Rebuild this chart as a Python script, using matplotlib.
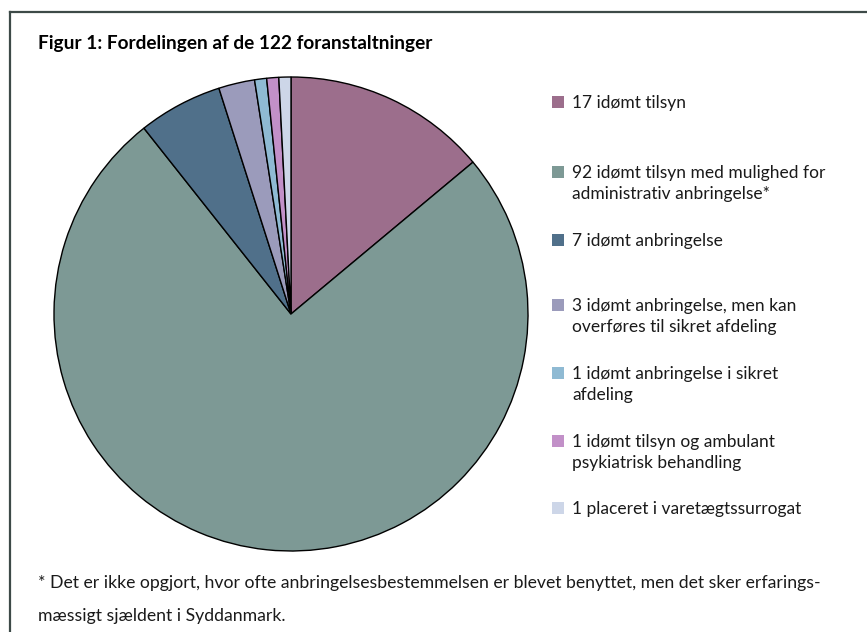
import matplotlib.pyplot as plt
from matplotlib.patches import Rectangle
from matplotlib.lines import Line2D

counts = [17, 92, 7, 3, 1, 1, 1]
labels = [
    "17 idømt tilsyn",
    "92 idømt tilsyn med mulighed for\nadministrativ anbringelse*",
    "7 idømt anbringelse",
    "3 idømt anbringelse, men kan\noverføres til sikret afdeling",
    "1 idømt anbringelse i sikret\nafdeling",
    "1 idømt tilsyn og ambulant\npsykiatrisk behandling",
    "1 placeret i varetægtssurrogat",
]
colors = ["#9c6e8c", "#7d9995", "#50708a", "#9b9bbb", "#8fbad3", "#c290c8", "#cdd6e8"]

title = "Figur 1: Fordelingen af de 122 foranstaltninger"
note = ("* Det er ikke opgjort, hvor ofte anbringelsesbestemmelsen er blevet benyttet, men det sker erfarings-\n"
        "mæssigt sjældent i Syddanmark.")

plt.rcParams['font.family'] = ['Lato', 'DejaVu Sans']

W, H = 867, 632
fig = plt.figure(figsize=(W / 100, H / 100), dpi=100)

def px(x, y):
    return x / W, 1 - y / H

# frame: top and left lines only
fig.add_artist(Line2D([10 / W, 1], [1 - 12 / H] * 2, color="#3d4a48", lw=1.6))
fig.add_artist(Line2D([10 / W] * 2, [1 - 12 / H, 0], color="#3d4a48", lw=1.6))

# pie
cx, cy, r = 291, 314, 237
ax = fig.add_axes([(cx - r) / W, (H - cy - r) / H, 2 * r / W, 2 * r / H])
ax.pie(counts, colors=colors, startangle=90, counterclock=False,
       wedgeprops=dict(edgecolor="black", linewidth=1.0))
ax.set_xlim(-1, 1)
ax.set_ylim(-1, 1)
ax.set_aspect("equal")
ax.axis("off")

fig.text(*px(38, 43), title, fontsize=13.7, fontweight="bold", va="center", ha="left")

# legend
legend_y = [102, 172, 240, 305, 373, 441, 508]
for lab, col, y in zip(labels, colors, legend_y):
    fig.add_artist(Rectangle(px(552, y + 6), 12 / W, 12 / H, facecolor=col,
                             edgecolor="none", transform=fig.transFigure))
    fig.text(*px(572, y - 7), lab, fontsize=12.5, va="top", ha="left",
             linespacing=1.35, color="#1a1a1a")

fig.text(*px(38, 575), note, fontsize=12.7, va="top", ha="left",
         linespacing=2.3, color="#1a1a1a")

fig.savefig("out.png", dpi=100)
